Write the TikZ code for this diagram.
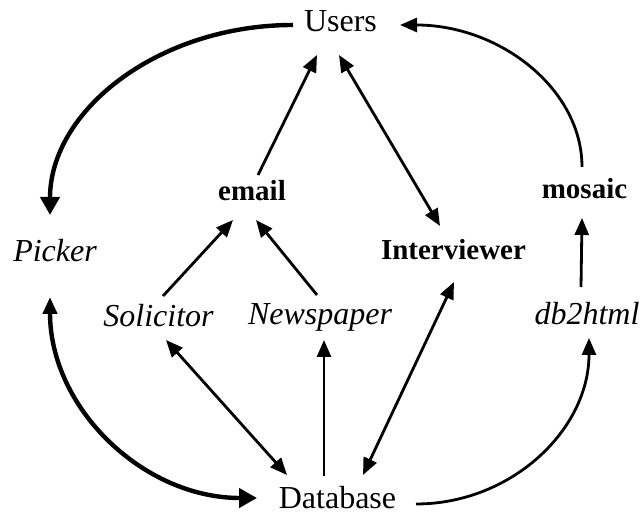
\documentclass[tikz,border=0pt]{standalone}
\usepackage{fontspec}
\setmainfont{Liberation Serif}
\usetikzlibrary{arrows.meta}
\tikzset{
  tipS/.tip={Triangle[length=17pt,width=14pt]},
  tipL/.tip={Triangle[length=18pt,width=19pt]},
  lab/.style={inner sep=0pt, anchor=base, font=\fontsize{32}{36}\selectfont},
  labi/.style={lab, font=\fontsize{32}{36}\selectfont\itshape},
  labb/.style={lab, font=\fontsize{29}{33}\selectfont\bfseries},
  conn/.style={draw=black, line width=2.8pt, -tipS},
  connboth/.style={draw=black, line width=2.8pt, tipS-tipS},
  heavy/.style={draw=black, line width=4.4pt, -tipL},
  heavyboth/.style={draw=black, line width=4.4pt, tipS-tipL},
}
\begin{document}
\begin{tikzpicture}[x=1pt,y=1pt]
  \useasboundingbox (0,0) rectangle (644,516);
  % nodes
  \node[lab]  (users)  at (340.5,484) {Users};
  \node[labb] (email)  at (252,315)   {email};
  \node[labb] (mosaic) at (584.5,317) {mosaic};
  \node[labi] (picker) at (55,254)    {Picker};
  \node[labb] (inter)  at (453.5,256) {Interviewer};
  \node[labi] (solic)  at (158.5,189) {Solicitor};
  \node[labi] (news)   at (320,191)   {Newspaper};
  \node[labi] (dbhtml) at (587,191)   {db2html};
  \node[lab]  (db)     at (337.5,8)   {Database};
  % outer loop
  \draw[heavy] ([shift={(-47.5,7)}]users.base) .. controls +(-134,0) and +(0,105) .. ([shift={(-5,47)}]picker.base);
  \draw[heavyboth] ([shift={(-5,-35)}]picker.base) .. controls +(0,-111) and +(-114,0) .. ([shift={(-80.5,10)}]db.base);
  \draw[conn] ([shift={(78.5,4)}]db.base) .. controls +(95,0) and +(0,-92) .. ([shift={(2,-13)}]dbhtml.base);
  \draw[conn] ([shift={(-2.5,32)}]mosaic.base) .. controls +(0,78) and +(100,0) .. ([shift={(59.5,7)}]users.base);
  % inner links
  \draw[conn] ([shift={(6,26)}]email.base) -- ([shift={(-23.5,-23)}]users.base);
  \draw[connboth] ([shift={(-1.5,-23)}]users.base) -- ([shift={(-13.5,34)}]inter.base);
  \draw[conn] ([shift={(4.5,31)}]solic.base) -- ([shift={(-19,-19)}]email.base);
  \draw[conn] ([shift={(-3,30)}]news.base) -- ([shift={(4,-19)}]email.base);
  \draw[connboth] ([shift={(7.5,-13)}]solic.base) -- ([shift={(-50.5,33)}]db.base);
  \draw[conn] ([shift={(-13.5,32)}]db.base) -- ([shift={(4,-15)}]news.base);
  \draw[connboth] ([shift={(25.5,33)}]db.base) -- ([shift={(0.5,-22)}]inter.base);
  \draw[conn] ([shift={(-6,38)}]dbhtml.base) -- ([shift={(-2.5,-19)}]mosaic.base);
\end{tikzpicture}
\end{document}
